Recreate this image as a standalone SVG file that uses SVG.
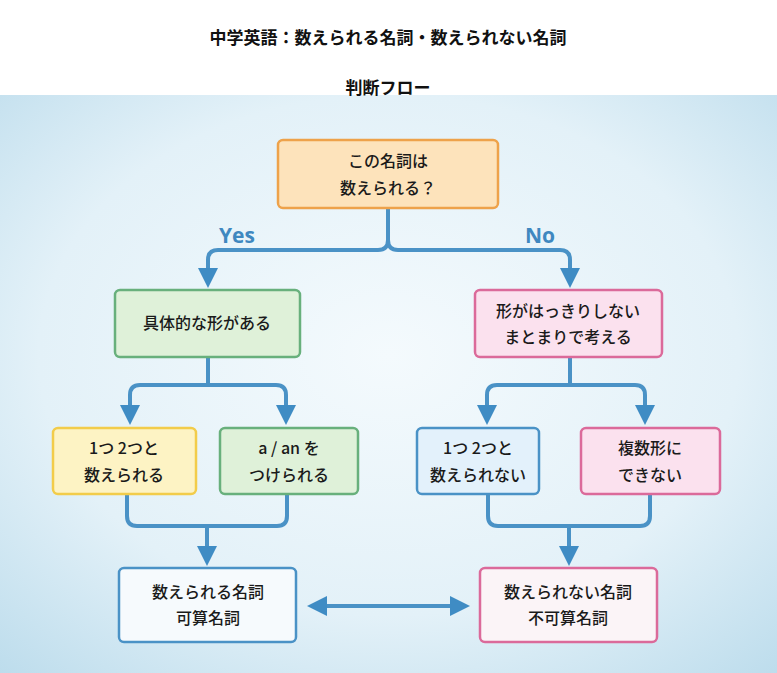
<svg xmlns="http://www.w3.org/2000/svg" width="777" height="673" viewBox="0 0 777 673">
<defs>
<radialGradient id="bg" cx="0.5" cy="0.45" r="0.75">
<stop offset="0" stop-color="#f4fafd"/><stop offset="0.6" stop-color="#e3f1f8"/><stop offset="1" stop-color="#bcdcec"/>
</radialGradient>
<marker id="ah" viewBox="0 0 10 10" refX="5" refY="5" markerWidth="5" markerHeight="5" orient="auto-start-reverse">
<path d="M0,0 L10,5 L0,10 z" fill="#3f8cc4"/>
</marker>
</defs>
<style>
.t{font-family:"Noto Sans CJK JP","Noto Sans",sans-serif;font-size:16px;font-weight:500;fill:#1a1a1a;text-anchor:middle}
.h{font-family:"Noto Sans CJK JP",sans-serif;font-size:17px;font-weight:bold;fill:#111;text-anchor:middle}
.yn{font-family:"Open Sans","Noto Sans",sans-serif;font-size:21px;font-weight:bold;fill:#3f88c0;text-anchor:middle}
.c{fill:none;stroke:#4a92c6;stroke-width:4;stroke-linejoin:round}
rect{stroke-width:2.5}
</style>
<rect width="777" height="673" fill="#fff"/>
<rect y="95" width="777" height="578" fill="url(#bg)"/>
<text class="h" x="388" y="44">中学英語：数えられる名詞・数えられない名詞</text>
<text class="h" x="388" y="94">判断フロー</text>
<g id="connectors">
<path class="c" d="M388,209 V240 Q388,250 378,250 H218 Q208,250 208,260 V278" marker-end="url(#ah)"/>
<path class="c" d="M388,240 Q388,250 398,250 H560 Q570,250 570,260 V278" marker-end="url(#ah)"/>
<path class="c" d="M208,358 V385 H140 Q130,385 130,395 V415" marker-end="url(#ah)"/>
<path class="c" d="M208,385 H276 Q286,385 286,395 V415" marker-end="url(#ah)"/>
<path class="c" d="M570,358 V385 H497 Q487,385 487,395 V415" marker-end="url(#ah)"/>
<path class="c" d="M570,385 H635 Q645,385 645,395 V415" marker-end="url(#ah)"/>
<path class="c" d="M127,495 V516 Q127,526 137,526 H277 Q287,526 287,516 V495"/>
<path class="c" d="M207,526 V556" marker-end="url(#ah)"/>
<path class="c" d="M488,495 V516 Q488,526 498,526 H640 Q650,526 650,516 V495"/>
<path class="c" d="M569,526 V556" marker-end="url(#ah)"/>
<path class="c" d="M317,606 H460" marker-start="url(#ah)" marker-end="url(#ah)"/>
</g>
<text class="yn" x="237" y="243">Yes</text>
<text class="yn" x="540" y="243">No</text>
<g id="q"><rect x="278" y="140" width="220" height="68" rx="5" fill="#fde3bb" stroke="#eea24a"/>
<text class="t" x="388" y="167">この名詞は</text><text class="t" x="388" y="194">数えられる？</text></g>
<g id="concrete"><rect x="115" y="290" width="185" height="67" rx="5" fill="#dff1d9" stroke="#68b07c"/>
<text class="t" x="207" y="329">具体的な形がある</text></g>
<g id="shapeless"><rect x="475" y="290" width="187" height="67" rx="5" fill="#fbe1ee" stroke="#db6a9a"/>
<text class="t" x="568" y="317">形がはっきりしない</text><text class="t" x="568" y="343">まとまりで考える</text></g>
<g id="count1"><rect x="53" y="428" width="143" height="66" rx="5" fill="#fdf3c4" stroke="#f2cc4a"/>
<text class="t" x="124" y="454">1つ 2つと</text><text class="t" x="124" y="481">数えられる</text></g>
<g id="aan"><rect x="220" y="428" width="138" height="66" rx="5" fill="#dff1d9" stroke="#68b07c"/>
<text class="t" x="289" y="454">a / an を</text><text class="t" x="289" y="481">つけられる</text></g>
<g id="count2"><rect x="417" y="428" width="122" height="66" rx="5" fill="#e3f1fb" stroke="#4a92c6"/>
<text class="t" x="478" y="454">1つ 2つと</text><text class="t" x="478" y="481">数えられない</text></g>
<g id="plural"><rect x="581" y="428" width="139" height="66" rx="5" fill="#fbe1ee" stroke="#db6a9a"/>
<text class="t" x="650" y="454">複数形に</text><text class="t" x="650" y="481">できない</text></g>
<g id="countable"><rect x="119" y="568" width="177" height="74" rx="5" fill="#f6fafd" stroke="#4a92c6"/>
<text class="t" x="208" y="598">数えられる名詞</text><text class="t" x="208" y="624">可算名詞</text></g>
<g id="uncountable"><rect x="480" y="568" width="177" height="74" rx="5" fill="#fbf4f7" stroke="#db6a9a"/>
<text class="t" x="568" y="598">数えられない名詞</text><text class="t" x="568" y="624">不可算名詞</text></g>
</svg>
